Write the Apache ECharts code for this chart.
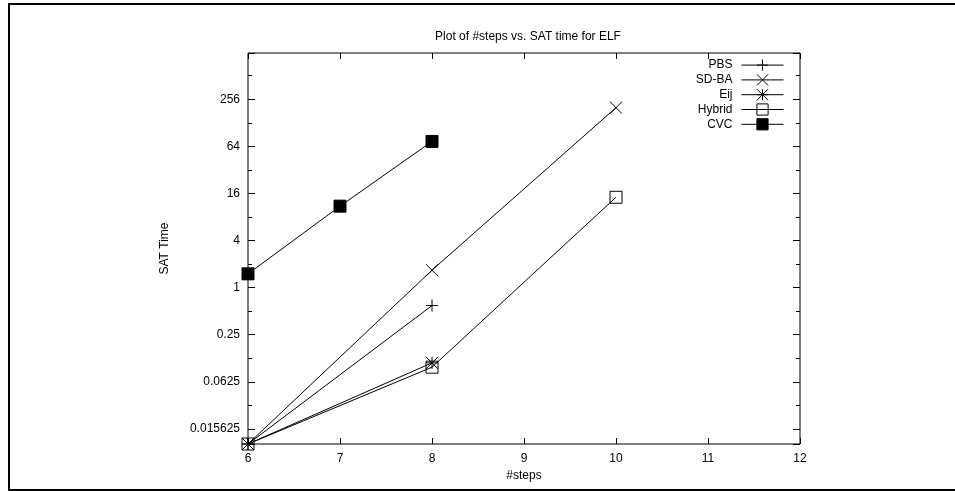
<!DOCTYPE html>
<html>
<head>
<meta charset="UTF-8">
<title>ELF</title>
<script src="https://cdn.jsdelivr.net/npm/echarts@6/dist/echarts.min.js"></script>
</head>
<body style="margin:0">
<div id="main" style="width:955px;height:491px;"></div>
<script type="text/javascript">
// data
var steps = [6, 7, 8, 9, 10, 11, 12];
var pbs = [[6, 0.01], [8, 0.59]];
var sdba = [[6, 0.01], [8, 1.67], [10, 200]];
var eij = [[6, 0.01], [8, 0.109]];
var hybrid = [[6, 0.01], [8, 0.096], [10, 14.3]];
var cvc = [[6, 1.5], [7, 11], [8, 74]];
var yLabels = [0.015625, 0.0625, 0.25, 1, 4, 16, 64, 256];

var plusPath = 'path://M0,5L10,5M5,0L5,10';
var crossPath = 'path://M0,0L10,10M0,10L10,0';
var starPath = 'path://M0,5L10,5M5,0L5,10M0,0L10,10M0,10L10,0';

var myChart = echarts.init(document.getElementById('main'));
var font = 'Liberation Sans, Arial, sans-serif';

function yAx(pos, shift, len, labels) {
    return {
        type: 'log', logBase: 4, position: pos,
        min: 0.01 * shift, max: 1000 * shift,
        axisLine: {show: false},
        axisTick: {inside: true, length: len, lineStyle: {color: '#000'}},
        axisLabel: {show: labels, color: '#000', fontSize: 12, fontFamily: font,
            formatter: function (v) { return yLabels.indexOf(v) >= 0 ? String(v) : ''; }},
        splitLine: {show: false}
    };
}

function line(name, data, symbol, fill) {
    return {
        name: name, type: 'line', data: data,
        symbol: symbol, symbolSize: 12, showSymbol: true,
        lineStyle: {color: '#000', width: 1},
        itemStyle: {color: fill, borderColor: '#000', borderWidth: 1},
        emphasis: {disabled: true},
        animation: false
    };
}

var left = yAx('left', 1, 7, true);
left.name = 'SAT Time';
left.nameLocation = 'middle';
left.nameGap = 77;
left.nameTextStyle = {color: '#000', fontSize: 12, fontFamily: font};

option = {
    animation: false,
    title: {
        text: 'Plot of #steps vs. SAT time for ELF',
        left: 523, top: 26, textAlign: 'center',
        textStyle: {color: '#000', fontSize: 12, fontWeight: 'normal', fontFamily: font}
    },
    graphic: [{
        type: 'rect', shape: {x: 9, y: 4, width: 1000, height: 486},
        style: {fill: 'none', stroke: '#000', lineWidth: 2}, silent: true
    }],
    legend: {
        orient: 'vertical', align: 'right',
        right: 171, top: 59, padding: 0,
        itemWidth: 42, itemHeight: 14, itemGap: 2.6,
        lineStyle: {width: 1},
        itemStyle: {borderWidth: 1},
        textStyle: {color: '#000', fontSize: 12, fontFamily: font, padding: [0, 4, 0, 0]},
        data: ['PBS', 'SD-BA', 'Eij', 'Hybrid', 'CVC']
    },
    grid: {
        left: 248, top: 53, right: 155, bottom: 47,
        show: true, borderColor: '#000', borderWidth: 1, backgroundColor: 'transparent'
    },
    xAxis: [{
        type: 'value', min: steps[0], max: steps[steps.length - 1], interval: 1,
        name: '#steps', nameLocation: 'middle', nameGap: 25,
        nameTextStyle: {color: '#000', fontSize: 12, fontFamily: font},
        axisLine: {show: false},
        axisTick: {inside: true, length: 6, lineStyle: {color: '#000'}},
        axisLabel: {color: '#000', fontSize: 12, fontFamily: font, margin: 9},
        splitLine: {show: false}
    }, {
        type: 'value', position: 'top', min: steps[0], max: steps[steps.length - 1], interval: 1,
        axisLine: {show: false},
        axisTick: {inside: true, length: 6, lineStyle: {color: '#000'}},
        axisLabel: {show: false},
        splitLine: {show: false}
    }],
    yAxis: [
        left,
        yAx('left', 2, 4, false),
        yAx('right', 1, 7, false),
        yAx('right', 2, 4, false)
    ],
    series: [
        line('PBS', pbs, plusPath, '#000'),
        line('SD-BA', sdba, crossPath, '#000'),
        line('Eij', eij, starPath, '#000'),
        line('Hybrid', hybrid, 'rect', 'rgba(0,0,0,0)'),
        line('CVC', cvc, 'rect', '#000')
    ]
};
myChart.setOption(option);
</script>
</body>
</html>
